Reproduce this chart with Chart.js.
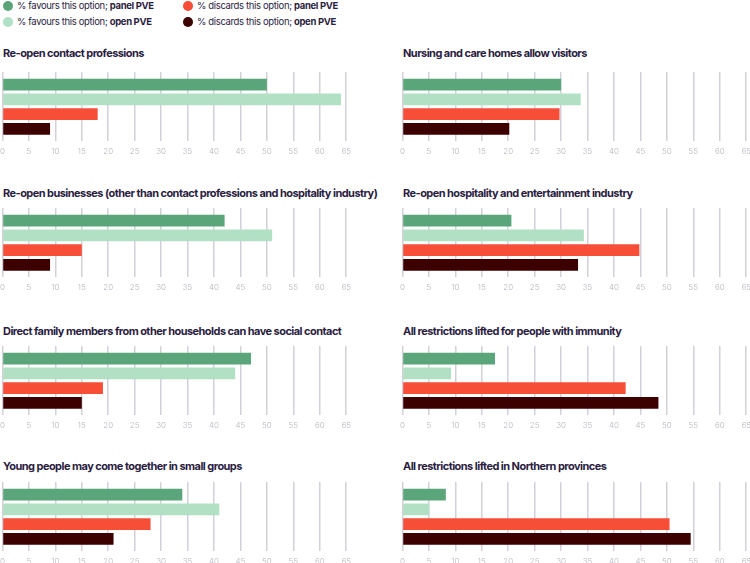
<!DOCTYPE html>
<html>
<head>
<meta charset="utf-8">
<script src="https://cdn.jsdelivr.net/npm/chart.js@4/dist/chart.umd.min.js"></script>
<style>
  html, body { margin: 0; padding: 0; background: #fff; }
  body { width: 750px; height: 563px; position: relative; overflow: hidden; font-family: Inter, "Noto Sans", sans-serif; color: #2b1d3f; }
  .legend-item { position: absolute; font-size: 9.5px; letter-spacing: -0.35px; line-height: 12px; white-space: nowrap; }
  .legend-item .dot { position: absolute; left: -14px; top: 1px; width: 10px; height: 10px; border-radius: 50%; }
  .legend-item b { font-weight: 700; }
  .title { position: absolute; font-size: 11px; font-weight: 700; letter-spacing: -0.55px; line-height: 14px; white-space: nowrap; color: #2b1d3f; }
  .box { position: absolute; width: 361px; height: 89px; }
</style>
</head>
<body>
<div id="legend"></div>
<div id="panels"></div>
<script>
// panel titles, in reading order (left, right, left, right ...)
const panelTitles = [
  "Re-open contact professions",
  "Nursing and care homes allow visitors",
  "Re-open businesses (other than contact professions and hospitality industry)",
  "Re-open hospitality and entertainment industry",
  "Direct family members from other households can have social contact",
  "All restrictions lifted for people with immunity",
  "Young people may come together in small groups",
  "All restrictions lifted in Northern provinces"
];

// % per panel
const favoursPanel  = [50, 30, 42, 20.6, 47, 17.5, 34, 8.2];
const favoursOpen   = [64, 33.7, 51, 34.3, 44, 9.2, 41, 5.1];
const discardsPanel = [18, 29.7, 15, 44.8, 19, 42.2, 28, 50.5];
const discardsOpen  = [9, 20.2, 9, 33.2, 15, 48.4, 21, 54.5];

const xMin = 0, xMax = 65, xStep = 5;

const series = [
  { pre: "% favours this option; ", bold: "panel PVE", values: favoursPanel,  color: "#5aa579" },
  { pre: "% favours this option; ", bold: "open PVE",  values: favoursOpen,   color: "#b2e0c4" },
  { pre: "% discards this option; ", bold: "panel PVE", values: discardsPanel, color: "#f64e37" },
  { pre: "% discards this option; ", bold: "open PVE",  values: discardsOpen,  color: "#3c0000" }
];

// legend (2 columns x 2 rows)
const legendPos = [[17, 0], [17, 16], [197, 0], [197, 16]];
const legend = document.getElementById("legend");
series.forEach((s, i) => {
  const d = document.createElement("div");
  d.className = "legend-item";
  d.style.left = legendPos[i][0] + "px";
  d.style.top = legendPos[i][1] + "px";
  d.innerHTML = '<span class="dot" style="background:' + s.color + '"></span>' + s.pre + "<b>" + s.bold + "</b>";
  legend.appendChild(d);
});

// layout of the 4 rows
const titleTop = [46, 186, 324, 459];
const gridTop = [72, 208, 346, 482];
const colLeft = [-5, 395];

const panels = document.getElementById("panels");
panelTitles.forEach((title, i) => {
  const row = Math.floor(i / 2), col = i % 2;

  const t = document.createElement("div");
  t.className = "title";
  t.textContent = title;
  t.style.left = (colLeft[col] + 8) + "px";
  t.style.top = titleTop[row] + "px";
  panels.appendChild(t);

  const box = document.createElement("div");
  box.className = "box";
  box.style.left = colLeft[col] + "px";
  box.style.top = gridTop[row] + "px";
  const cv = document.createElement("canvas");
  box.appendChild(cv);
  panels.appendChild(box);

  new Chart(cv.getContext("2d"), {
    type: "bar",
    data: {
      labels: [title],
      datasets: series.map(s => ({
        label: s.pre + s.bold,
        data: [s.values[i]],
        backgroundColor: s.color,
        barPercentage: 0.79,
        categoryPercentage: 0.85
      }))
    },
    options: {
      indexAxis: "y",
      responsive: true,
      maintainAspectRatio: false,
      animation: false,
      plugins: {
        legend: { display: false },
        tooltip: { enabled: false }
      },
      scales: {
        x: {
          min: xMin,
          max: xMax,
          ticks: {
            stepSize: xStep,
            autoSkip: false,
            maxRotation: 0,
            color: "#b7b5bf",
            padding: 5,
            font: { family: "Inter", size: 8, weight: 300 }
          },
          grid: { color: "#d3d0da", lineWidth: 1.5, drawTicks: false },
          border: { display: false }
        },
        y: { display: false }
      }
    }
  });
});
</script>
</body>
</html>
